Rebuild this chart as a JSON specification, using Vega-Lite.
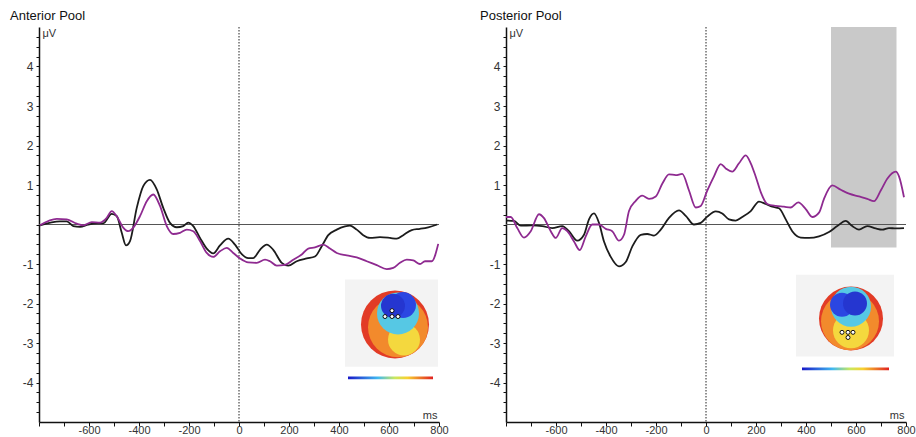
{
  "$schema": "https://vega.github.io/schema/vega-lite/v6.json",
  "background": "white",
  "padding": {"left": 10, "top": 9, "right": 0, "bottom": 0},
  "config": {
    "view": {"stroke": null},
    "font": "Liberation Sans",
    "axis": {"labelOverlap": false, "labelFlush": false, "grid": false, "tickCount": 100}
  },
  "datasets": {
    "erp": [
      {"pool":"Anterior","cond":"C1","t":-796,"v":-0.02},{"pool":"Anterior","cond":"C1","t":-716,"v":0.08},{"pool":"Anterior","cond":"C1","t":-689,"v":0.08},{"pool":"Anterior","cond":"C1","t":-663,"v":-0.04},{"pool":"Anterior","cond":"C1","t":-636,"v":-0.06},{"pool":"Anterior","cond":"C1","t":-603,"v":0},{"pool":"Anterior","cond":"C1","t":-569,"v":0.03},{"pool":"Anterior","cond":"C1","t":-543,"v":0.03},{"pool":"Anterior","cond":"C1","t":-509,"v":0.27},{"pool":"Anterior","cond":"C1","t":-489,"v":0.21},{"pool":"Anterior","cond":"C1","t":-469,"v":-0.21},{"pool":"Anterior","cond":"C1","t":-452,"v":-0.53},{"pool":"Anterior","cond":"C1","t":-436,"v":-0.42},{"pool":"Anterior","cond":"C1","t":-409,"v":0.42},{"pool":"Anterior","cond":"C1","t":-383,"v":0.97},{"pool":"Anterior","cond":"C1","t":-356,"v":1.13},{"pool":"Anterior","cond":"C1","t":-329,"v":0.89},{"pool":"Anterior","cond":"C1","t":-303,"v":0.42},{"pool":"Anterior","cond":"C1","t":-276,"v":0.04},{"pool":"Anterior","cond":"C1","t":-249,"v":-0.07},{"pool":"Anterior","cond":"C1","t":-223,"v":-0.04},{"pool":"Anterior","cond":"C1","t":-203,"v":0.05},{"pool":"Anterior","cond":"C1","t":-183,"v":-0.04},{"pool":"Anterior","cond":"C1","t":-156,"v":-0.34},{"pool":"Anterior","cond":"C1","t":-129,"v":-0.61},{"pool":"Anterior","cond":"C1","t":-103,"v":-0.73},{"pool":"Anterior","cond":"C1","t":-76,"v":-0.53},{"pool":"Anterior","cond":"C1","t":-43,"v":-0.36},{"pool":"Anterior","cond":"C1","t":-16,"v":-0.51},{"pool":"Anterior","cond":"C1","t":11,"v":-0.75},{"pool":"Anterior","cond":"C1","t":37,"v":-0.85},{"pool":"Anterior","cond":"C1","t":57,"v":-0.85},{"pool":"Anterior","cond":"C1","t":84,"v":-0.64},{"pool":"Anterior","cond":"C1","t":111,"v":-0.51},{"pool":"Anterior","cond":"C1","t":137,"v":-0.64},{"pool":"Anterior","cond":"C1","t":171,"v":-0.97},{"pool":"Anterior","cond":"C1","t":197,"v":-1.04},{"pool":"Anterior","cond":"C1","t":231,"v":-0.93},{"pool":"Anterior","cond":"C1","t":271,"v":-0.86},{"pool":"Anterior","cond":"C1","t":304,"v":-0.81},{"pool":"Anterior","cond":"C1","t":331,"v":-0.55},{"pool":"Anterior","cond":"C1","t":357,"v":-0.27},{"pool":"Anterior","cond":"C1","t":391,"v":-0.13},{"pool":"Anterior","cond":"C1","t":424,"v":-0.05},{"pool":"Anterior","cond":"C1","t":444,"v":-0.03},{"pool":"Anterior","cond":"C1","t":471,"v":-0.13},{"pool":"Anterior","cond":"C1","t":497,"v":-0.27},{"pool":"Anterior","cond":"C1","t":524,"v":-0.34},{"pool":"Anterior","cond":"C1","t":564,"v":-0.32},{"pool":"Anterior","cond":"C1","t":604,"v":-0.34},{"pool":"Anterior","cond":"C1","t":631,"v":-0.36},{"pool":"Anterior","cond":"C1","t":657,"v":-0.27},{"pool":"Anterior","cond":"C1","t":691,"v":-0.14},{"pool":"Anterior","cond":"C1","t":724,"v":-0.11},{"pool":"Anterior","cond":"C1","t":757,"v":-0.07},{"pool":"Anterior","cond":"C1","t":793,"v":0},
      {"pool":"Anterior","cond":"C2","t":-796,"v":-0.02},{"pool":"Anterior","cond":"C2","t":-729,"v":0.14},{"pool":"Anterior","cond":"C2","t":-689,"v":0.13},{"pool":"Anterior","cond":"C2","t":-649,"v":0.02},{"pool":"Anterior","cond":"C2","t":-623,"v":-0.02},{"pool":"Anterior","cond":"C2","t":-589,"v":0.06},{"pool":"Anterior","cond":"C2","t":-556,"v":0.05},{"pool":"Anterior","cond":"C2","t":-529,"v":0.17},{"pool":"Anterior","cond":"C2","t":-509,"v":0.34},{"pool":"Anterior","cond":"C2","t":-489,"v":0.21},{"pool":"Anterior","cond":"C2","t":-463,"v":-0.08},{"pool":"Anterior","cond":"C2","t":-443,"v":-0.17},{"pool":"Anterior","cond":"C2","t":-423,"v":-0.08},{"pool":"Anterior","cond":"C2","t":-396,"v":0.21},{"pool":"Anterior","cond":"C2","t":-369,"v":0.59},{"pool":"Anterior","cond":"C2","t":-343,"v":0.76},{"pool":"Anterior","cond":"C2","t":-316,"v":0.47},{"pool":"Anterior","cond":"C2","t":-289,"v":-0.04},{"pool":"Anterior","cond":"C2","t":-263,"v":-0.24},{"pool":"Anterior","cond":"C2","t":-236,"v":-0.21},{"pool":"Anterior","cond":"C2","t":-209,"v":-0.13},{"pool":"Anterior","cond":"C2","t":-183,"v":-0.17},{"pool":"Anterior","cond":"C2","t":-156,"v":-0.42},{"pool":"Anterior","cond":"C2","t":-129,"v":-0.72},{"pool":"Anterior","cond":"C2","t":-103,"v":-0.82},{"pool":"Anterior","cond":"C2","t":-76,"v":-0.68},{"pool":"Anterior","cond":"C2","t":-49,"v":-0.59},{"pool":"Anterior","cond":"C2","t":-23,"v":-0.72},{"pool":"Anterior","cond":"C2","t":4,"v":-0.86},{"pool":"Anterior","cond":"C2","t":37,"v":-0.96},{"pool":"Anterior","cond":"C2","t":71,"v":-0.97},{"pool":"Anterior","cond":"C2","t":104,"v":-0.89},{"pool":"Anterior","cond":"C2","t":124,"v":-0.93},{"pool":"Anterior","cond":"C2","t":151,"v":-1.04},{"pool":"Anterior","cond":"C2","t":184,"v":-1.02},{"pool":"Anterior","cond":"C2","t":217,"v":-0.89},{"pool":"Anterior","cond":"C2","t":251,"v":-0.76},{"pool":"Anterior","cond":"C2","t":277,"v":-0.61},{"pool":"Anterior","cond":"C2","t":304,"v":-0.58},{"pool":"Anterior","cond":"C2","t":337,"v":-0.51},{"pool":"Anterior","cond":"C2","t":364,"v":-0.61},{"pool":"Anterior","cond":"C2","t":391,"v":-0.72},{"pool":"Anterior","cond":"C2","t":431,"v":-0.78},{"pool":"Anterior","cond":"C2","t":471,"v":-0.83},{"pool":"Anterior","cond":"C2","t":511,"v":-0.93},{"pool":"Anterior","cond":"C2","t":551,"v":-1.03},{"pool":"Anterior","cond":"C2","t":591,"v":-1.13},{"pool":"Anterior","cond":"C2","t":617,"v":-1.10},{"pool":"Anterior","cond":"C2","t":644,"v":-0.97},{"pool":"Anterior","cond":"C2","t":671,"v":-0.89},{"pool":"Anterior","cond":"C2","t":697,"v":-0.91},{"pool":"Anterior","cond":"C2","t":724,"v":-1.0},{"pool":"Anterior","cond":"C2","t":744,"v":-0.93},{"pool":"Anterior","cond":"C2","t":771,"v":-0.93},{"pool":"Anterior","cond":"C2","t":797,"v":-0.49},
      {"pool":"Posterior","cond":"C1","t":-800,"v":0.10},{"pool":"Posterior","cond":"C1","t":-768,"v":0.09},{"pool":"Posterior","cond":"C1","t":-741,"v":-0.03},{"pool":"Posterior","cond":"C1","t":-695,"v":-0.02},{"pool":"Posterior","cond":"C1","t":-655,"v":-0.04},{"pool":"Posterior","cond":"C1","t":-615,"v":-0.09},{"pool":"Posterior","cond":"C1","t":-575,"v":-0.04},{"pool":"Posterior","cond":"C1","t":-548,"v":-0.17},{"pool":"Posterior","cond":"C1","t":-515,"v":-0.41},{"pool":"Posterior","cond":"C1","t":-488,"v":-0.26},{"pool":"Posterior","cond":"C1","t":-468,"v":0.13},{"pool":"Posterior","cond":"C1","t":-448,"v":0.28},{"pool":"Posterior","cond":"C1","t":-428,"v":0.04},{"pool":"Posterior","cond":"C1","t":-408,"v":-0.43},{"pool":"Posterior","cond":"C1","t":-381,"v":-0.82},{"pool":"Posterior","cond":"C1","t":-348,"v":-1.06},{"pool":"Posterior","cond":"C1","t":-321,"v":-0.95},{"pool":"Posterior","cond":"C1","t":-295,"v":-0.56},{"pool":"Posterior","cond":"C1","t":-261,"v":-0.26},{"pool":"Posterior","cond":"C1","t":-235,"v":-0.24},{"pool":"Posterior","cond":"C1","t":-208,"v":-0.28},{"pool":"Posterior","cond":"C1","t":-181,"v":-0.13},{"pool":"Posterior","cond":"C1","t":-148,"v":0.17},{"pool":"Posterior","cond":"C1","t":-108,"v":0.36},{"pool":"Posterior","cond":"C1","t":-81,"v":0.22},{"pool":"Posterior","cond":"C1","t":-48,"v":0},{"pool":"Posterior","cond":"C1","t":-21,"v":0.04},{"pool":"Posterior","cond":"C1","t":5,"v":0.20},{"pool":"Posterior","cond":"C1","t":39,"v":0.33},{"pool":"Posterior","cond":"C1","t":65,"v":0.28},{"pool":"Posterior","cond":"C1","t":92,"v":0.13},{"pool":"Posterior","cond":"C1","t":119,"v":0.10},{"pool":"Posterior","cond":"C1","t":145,"v":0.19},{"pool":"Posterior","cond":"C1","t":179,"v":0.34},{"pool":"Posterior","cond":"C1","t":212,"v":0.58},{"pool":"Posterior","cond":"C1","t":239,"v":0.52},{"pool":"Posterior","cond":"C1","t":265,"v":0.45},{"pool":"Posterior","cond":"C1","t":292,"v":0.41},{"pool":"Posterior","cond":"C1","t":319,"v":0.13},{"pool":"Posterior","cond":"C1","t":345,"v":-0.17},{"pool":"Posterior","cond":"C1","t":379,"v":-0.33},{"pool":"Posterior","cond":"C1","t":412,"v":-0.34},{"pool":"Posterior","cond":"C1","t":452,"v":-0.30},{"pool":"Posterior","cond":"C1","t":492,"v":-0.19},{"pool":"Posterior","cond":"C1","t":525,"v":-0.04},{"pool":"Posterior","cond":"C1","t":559,"v":0.09},{"pool":"Posterior","cond":"C1","t":585,"v":-0.04},{"pool":"Posterior","cond":"C1","t":612,"v":-0.13},{"pool":"Posterior","cond":"C1","t":645,"v":-0.04},{"pool":"Posterior","cond":"C1","t":679,"v":-0.10},{"pool":"Posterior","cond":"C1","t":705,"v":-0.13},{"pool":"Posterior","cond":"C1","t":732,"v":-0.09},{"pool":"Posterior","cond":"C1","t":759,"v":-0.10},{"pool":"Posterior","cond":"C1","t":792,"v":-0.09},
      {"pool":"Posterior","cond":"C2","t":-800,"v":0.19},{"pool":"Posterior","cond":"C2","t":-781,"v":0.19},{"pool":"Posterior","cond":"C2","t":-755,"v":-0.09},{"pool":"Posterior","cond":"C2","t":-728,"v":-0.33},{"pool":"Posterior","cond":"C2","t":-701,"v":-0.17},{"pool":"Posterior","cond":"C2","t":-668,"v":0.26},{"pool":"Posterior","cond":"C2","t":-648,"v":0.16},{"pool":"Posterior","cond":"C2","t":-621,"v":-0.17},{"pool":"Posterior","cond":"C2","t":-601,"v":-0.34},{"pool":"Posterior","cond":"C2","t":-575,"v":-0.09},{"pool":"Posterior","cond":"C2","t":-555,"v":-0.17},{"pool":"Posterior","cond":"C2","t":-528,"v":-0.43},{"pool":"Posterior","cond":"C2","t":-505,"v":-0.65},{"pool":"Posterior","cond":"C2","t":-481,"v":-0.30},{"pool":"Posterior","cond":"C2","t":-455,"v":0},{"pool":"Posterior","cond":"C2","t":-428,"v":0},{"pool":"Posterior","cond":"C2","t":-401,"v":-0.11},{"pool":"Posterior","cond":"C2","t":-375,"v":-0.17},{"pool":"Posterior","cond":"C2","t":-348,"v":-0.41},{"pool":"Posterior","cond":"C2","t":-328,"v":-0.26},{"pool":"Posterior","cond":"C2","t":-308,"v":0.34},{"pool":"Posterior","cond":"C2","t":-281,"v":0.60},{"pool":"Posterior","cond":"C2","t":-255,"v":0.73},{"pool":"Posterior","cond":"C2","t":-228,"v":0.65},{"pool":"Posterior","cond":"C2","t":-201,"v":0.71},{"pool":"Posterior","cond":"C2","t":-175,"v":1.03},{"pool":"Posterior","cond":"C2","t":-148,"v":1.27},{"pool":"Posterior","cond":"C2","t":-121,"v":1.25},{"pool":"Posterior","cond":"C2","t":-95,"v":1.28},{"pool":"Posterior","cond":"C2","t":-68,"v":0.86},{"pool":"Posterior","cond":"C2","t":-41,"v":0.43},{"pool":"Posterior","cond":"C2","t":-21,"v":0.47},{"pool":"Posterior","cond":"C2","t":5,"v":0.86},{"pool":"Posterior","cond":"C2","t":32,"v":1.22},{"pool":"Posterior","cond":"C2","t":59,"v":1.53},{"pool":"Posterior","cond":"C2","t":79,"v":1.42},{"pool":"Posterior","cond":"C2","t":105,"v":1.34},{"pool":"Posterior","cond":"C2","t":132,"v":1.55},{"pool":"Posterior","cond":"C2","t":159,"v":1.75},{"pool":"Posterior","cond":"C2","t":179,"v":1.55},{"pool":"Posterior","cond":"C2","t":199,"v":1.21},{"pool":"Posterior","cond":"C2","t":219,"v":0.82},{"pool":"Posterior","cond":"C2","t":245,"v":0.52},{"pool":"Posterior","cond":"C2","t":279,"v":0.47},{"pool":"Posterior","cond":"C2","t":312,"v":0.45},{"pool":"Posterior","cond":"C2","t":339,"v":0.43},{"pool":"Posterior","cond":"C2","t":369,"v":0.56},{"pool":"Posterior","cond":"C2","t":399,"v":0.39},{"pool":"Posterior","cond":"C2","t":425,"v":0.19},{"pool":"Posterior","cond":"C2","t":452,"v":0.30},{"pool":"Posterior","cond":"C2","t":472,"v":0.65},{"pool":"Posterior","cond":"C2","t":505,"v":0.99},{"pool":"Posterior","cond":"C2","t":539,"v":0.88},{"pool":"Posterior","cond":"C2","t":572,"v":0.78},{"pool":"Posterior","cond":"C2","t":612,"v":0.71},{"pool":"Posterior","cond":"C2","t":645,"v":0.65},{"pool":"Posterior","cond":"C2","t":672,"v":0.59},{"pool":"Posterior","cond":"C2","t":699,"v":0.86},{"pool":"Posterior","cond":"C2","t":725,"v":1.16},{"pool":"Posterior","cond":"C2","t":759,"v":1.34},{"pool":"Posterior","cond":"C2","t":772,"v":1.22},{"pool":"Posterior","cond":"C2","t":792,"v":0.69}
    ],
    "one": [{"z": 0}],
    "shade": [{"pool":"Posterior","t0":500,"t1":762,"v0":-0.58,"v1":5}],
    "boxes": [
      {"pool":"Anterior","kind":"bg","t0":424,"t1":796,"v0":-1.39,"v1":-3.6},
      {"pool":"Posterior","kind":"bg","t0":360,"t1":752,"v0":-1.27,"v1":-3.34},
      {"pool":"Anterior","kind":"bar","t0":436,"t1":776,"v0":-3.85,"v1":-3.92},
      {"pool":"Posterior","kind":"bar","t0":384,"t1":732,"v0":-3.62,"v1":-3.69}
    ],
    "topo": [
      {"pool":"Anterior","zone":"L1","t":624,"v":-2.53},
      {"pool":"Anterior","zone":"L2","t":636,"v":-2.6},
      {"pool":"Anterior","zone":"L3","t":660,"v":-2.91},
      {"pool":"Anterior","zone":"L4","t":636,"v":-2.25},
      {"pool":"Anterior","zone":"L5","t":656,"v":-2.04},
      {"pool":"Anterior","zone":"L6","t":616,"v":-2.06},
      {"pool":"Posterior","zone":"R1","t":580,"v":-2.38},
      {"pool":"Posterior","zone":"R2","t":576,"v":-2.45},
      {"pool":"Posterior","zone":"R3","t":580,"v":-2.68},
      {"pool":"Posterior","zone":"R4","t":580,"v":-2.08},
      {"pool":"Posterior","zone":"R5","t":544,"v":-2.03},
      {"pool":"Posterior","zone":"R6","t":596,"v":-2.0}
    ],
    "elec": [
      {"pool":"Anterior","t":612,"v":-2.18},{"pool":"Anterior","t":584,"v":-2.33},{"pool":"Anterior","t":612,"v":-2.33},{"pool":"Anterior","t":636,"v":-2.33},
      {"pool":"Posterior","t":544,"v":-2.73},{"pool":"Posterior","t":568,"v":-2.73},{"pool":"Posterior","t":588,"v":-2.73},{"pool":"Posterior","t":568,"v":-2.86}
    ]
  },
  "hconcat": [
    {
      "width": 400, "height": 395,
      "title": {"text": "Anterior Pool", "anchor": "start", "frame": "group", "dx": -29, "fontSize": 13, "fontWeight": "normal", "font": "Liberation Sans", "color": "#111", "offset": 4},
      "layer": [
        {
          "data": {"name": "erp"},
          "transform": [{"filter": "datum.pool == 'Anterior'"}],
          "mark": {"type": "line", "interpolate": "monotone", "strokeWidth": 1.8, "opacity": 0},
          "encoding": {
            "x": {"field": "t", "type": "quantitative", "scale": {"domain": [-800, 800], "nice": false},
              "axis": {"values": [-800,-700,-600,-500,-400,-300,-200,-100,0,100,200,300,400,500,600,700,800], "tickCount": 100, "labelExpr": "(datum.value % 200 == 0 && datum.value > -800) ? '' + datum.value : ''", "title": "ms", "titleX": 398, "titleY": -2, "titleAlign": "right", "titleBaseline": "bottom", "titleFontWeight": "normal", "titleFontSize": 11, "titleColor": "#333", "titleFont": "Liberation Sans", "tickSize": 4, "tickColor": "#111", "domainColor": "#111", "domainWidth": 1.5, "labelFontSize": 11, "labelColor": "#333", "labelFont": "Liberation Sans", "labelPadding": -2, "labelOverlap": false}},
            "y": {"field": "v", "type": "quantitative", "scale": {"domain": [-5, 5], "nice": false},
              "axis": {"values": [-4.75,-4.5,-4.25,-4,-3.75,-3.5,-3.25,-3,-2.75,-2.5,-2.25,-2,-1.75,-1.5,-1.25,-1,-0.75,-0.5,-0.25,0,0.25,0.5,0.75,1,1.25,1.5,1.75,2,2.25,2.5,2.75,3,3.25,3.5,3.75,4,4.25,4.5,4.75], "tickCount": 100, "labelExpr": "(datum.value % 1 == 0 && datum.value != 0) ? '' + datum.value : ''", "title": "μV", "titleAngle": 0, "titleX": 3, "titleY": 0, "titleAlign": "left", "titleBaseline": "top", "titleFontWeight": "normal", "titleFontSize": 11, "titleColor": "#333", "titleFont": "Liberation Sans", "tickSize": 3, "tickColor": "#111", "domainColor": "#111", "domainWidth": 1.5, "labelFontSize": 12, "labelColor": "#333", "labelFont": "Liberation Sans", "labelPadding": 3, "labelOverlap": false}},
            "color": {"field": "cond", "type": "nominal", "scale": {"domain": ["C1", "C2"], "range": ["#1c1c1c", "#8e2a90"]}, "legend": null}
          }
        },
        {
          "data": {"name": "boxes"},
          "transform": [{"filter": "datum.pool == 'Anterior' && datum.kind == 'bg'"}],
          "mark": {"type": "rect", "color": "#f3f3f3"},
          "encoding": {
            "x": {"field": "t0", "type": "quantitative"},
            "x2": {"field": "t1"},
            "y": {"field": "v0", "type": "quantitative"},
            "y2": {"field": "v1"}
          }
        },
        {
          "data": {"name": "boxes"},
          "transform": [{"filter": "datum.pool == 'Anterior' && datum.kind == 'bar'"}],
          "mark": {"type": "rect", "color": {"gradient": "linear", "x1": 0, "y1": 0, "x2": 1, "y2": 0, "stops": [{"offset": 0, "color": "#1818c8"}, {"offset": 0.35, "color": "#40b8f0"}, {"offset": 0.55, "color": "#c8e860"}, {"offset": 0.7, "color": "#f8d030"}, {"offset": 1, "color": "#e02020"}]}},
          "encoding": {
            "x": {"field": "t0", "type": "quantitative"},
            "x2": {"field": "t1"},
            "y": {"field": "v0", "type": "quantitative"},
            "y2": {"field": "v1"}
          }
        },
        {
          "data": {"name": "topo"},
          "transform": [{"filter": "datum.pool == 'Anterior'"}],
          "mark": {"type": "point", "shape": "circle", "filled": true, "opacity": 1},
          "encoding": {
            "x": {"field": "t", "type": "quantitative"},
            "y": {"field": "v", "type": "quantitative"},
            "fill": {"field": "zone", "type": "nominal", "scale": {"domain": ["L1","L2","L3","L4","L5","L6"], "range": ["#e23b26","#f28a2c","#f4d83e","#56c8e4","#2b46e2","#2536d0"]}, "legend": null},
            "size": {"field": "zone", "type": "nominal", "scale": {"type": "ordinal", "domain": ["L1","L2","L3","L4","L5","L6"], "range": [4624, 3600, 1024, 1764, 676, 576]}, "legend": null}
          }
        },
        {
          "data": {"name": "elec"},
          "transform": [{"filter": "datum.pool == 'Anterior'"}],
          "mark": {"type": "point", "shape": "circle", "filled": true, "fill": "white", "stroke": "#111", "strokeWidth": 1, "size": 16, "opacity": 1},
          "encoding": {
            "x": {"field": "t", "type": "quantitative"},
            "y": {"field": "v", "type": "quantitative"}
          }
        },
        {
          "data": {"name": "one"},
          "mark": {"type": "rule", "color": "#555", "strokeWidth": 1},
          "encoding": {"y": {"datum": 0, "type": "quantitative"}}
        },
        {
          "data": {"name": "one"},
          "mark": {"type": "rule", "color": "#222", "strokeWidth": 1, "strokeDash": [1.5, 1.5]},
          "encoding": {"x": {"datum": 0, "type": "quantitative"}}
        },
        {
          "data": {"name": "erp"},
          "transform": [{"filter": "datum.pool == 'Anterior'"}],
          "mark": {"type": "line", "interpolate": "monotone", "strokeWidth": 1.8},
          "encoding": {
            "x": {"field": "t", "type": "quantitative"},
            "y": {"field": "v", "type": "quantitative"},
            "color": {"field": "cond", "type": "nominal", "legend": null}
          }
        }
      ]
    },
    {
      "width": 400, "height": 395,
      "title": {"text": "Posterior Pool", "anchor": "start", "frame": "group", "dx": -26, "fontSize": 13, "fontWeight": "normal", "font": "Liberation Sans", "color": "#111", "offset": 4},
      "layer": [
        {
          "data": {"name": "erp"},
          "transform": [{"filter": "datum.pool == 'Posterior'"}],
          "mark": {"type": "line", "interpolate": "monotone", "strokeWidth": 1.8, "opacity": 0},
          "encoding": {
            "x": {"field": "t", "type": "quantitative", "scale": {"domain": [-800, 800], "nice": false},
              "axis": {"values": [-800,-700,-600,-500,-400,-300,-200,-100,0,100,200,300,400,500,600,700,800], "tickCount": 100, "labelExpr": "(datum.value % 200 == 0 && datum.value > -800) ? '' + datum.value : ''", "title": "ms", "titleX": 398, "titleY": -2, "titleAlign": "right", "titleBaseline": "bottom", "titleFontWeight": "normal", "titleFontSize": 11, "titleColor": "#333", "titleFont": "Liberation Sans", "tickSize": 4, "tickColor": "#111", "domainColor": "#111", "domainWidth": 1.5, "labelFontSize": 11, "labelColor": "#333", "labelFont": "Liberation Sans", "labelPadding": -2, "labelOverlap": false}},
            "y": {"field": "v", "type": "quantitative", "scale": {"domain": [-5, 5], "nice": false},
              "axis": {"values": [-4.75,-4.5,-4.25,-4,-3.75,-3.5,-3.25,-3,-2.75,-2.5,-2.25,-2,-1.75,-1.5,-1.25,-1,-0.75,-0.5,-0.25,0,0.25,0.5,0.75,1,1.25,1.5,1.75,2,2.25,2.5,2.75,3,3.25,3.5,3.75,4,4.25,4.5,4.75], "tickCount": 100, "labelExpr": "(datum.value % 1 == 0 && datum.value != 0) ? '' + datum.value : ''", "title": "μV", "titleAngle": 0, "titleX": 3, "titleY": 0, "titleAlign": "left", "titleBaseline": "top", "titleFontWeight": "normal", "titleFontSize": 11, "titleColor": "#333", "titleFont": "Liberation Sans", "tickSize": 3, "tickColor": "#111", "domainColor": "#111", "domainWidth": 1.5, "labelFontSize": 12, "labelColor": "#333", "labelFont": "Liberation Sans", "labelPadding": 3, "labelOverlap": false}},
            "color": {"field": "cond", "type": "nominal", "scale": {"domain": ["C1", "C2"], "range": ["#1c1c1c", "#8e2a90"]}, "legend": null}
          }
        },
        {
          "data": {"name": "shade"},
          "mark": {"type": "rect", "color": "#c9c9c9"},
          "encoding": {
            "x": {"field": "t0", "type": "quantitative"},
            "x2": {"field": "t1"},
            "y": {"field": "v0", "type": "quantitative"},
            "y2": {"field": "v1"}
          }
        },
        {
          "data": {"name": "boxes"},
          "transform": [{"filter": "datum.pool == 'Posterior' && datum.kind == 'bg'"}],
          "mark": {"type": "rect", "color": "#f3f3f3"},
          "encoding": {
            "x": {"field": "t0", "type": "quantitative"},
            "x2": {"field": "t1"},
            "y": {"field": "v0", "type": "quantitative"},
            "y2": {"field": "v1"}
          }
        },
        {
          "data": {"name": "boxes"},
          "transform": [{"filter": "datum.pool == 'Posterior' && datum.kind == 'bar'"}],
          "mark": {"type": "rect", "color": {"gradient": "linear", "x1": 0, "y1": 0, "x2": 1, "y2": 0, "stops": [{"offset": 0, "color": "#1818c8"}, {"offset": 0.35, "color": "#40b8f0"}, {"offset": 0.55, "color": "#c8e860"}, {"offset": 0.7, "color": "#f8d030"}, {"offset": 1, "color": "#e02020"}]}},
          "encoding": {
            "x": {"field": "t0", "type": "quantitative"},
            "x2": {"field": "t1"},
            "y": {"field": "v0", "type": "quantitative"},
            "y2": {"field": "v1"}
          }
        },
        {
          "data": {"name": "topo"},
          "transform": [{"filter": "datum.pool == 'Posterior'"}],
          "mark": {"type": "point", "shape": "circle", "filled": true, "opacity": 1},
          "encoding": {
            "x": {"field": "t", "type": "quantitative"},
            "y": {"field": "v", "type": "quantitative"},
            "fill": {"field": "zone", "type": "nominal", "scale": {"domain": ["R1","R2","R3","R4","R5","R6"], "range": ["#e23b26","#f28a2c","#f4d83e","#56c8e4","#2b46e2","#2536d0"]}, "legend": null},
            "size": {"field": "zone", "type": "nominal", "scale": {"type": "ordinal", "domain": ["R1","R2","R3","R4","R5","R6"], "range": [4096, 3364, 1296, 1600, 576, 576]}, "legend": null}
          }
        },
        {
          "data": {"name": "elec"},
          "transform": [{"filter": "datum.pool == 'Posterior'"}],
          "mark": {"type": "point", "shape": "circle", "filled": true, "fill": "white", "stroke": "#111", "strokeWidth": 1, "size": 16, "opacity": 1},
          "encoding": {
            "x": {"field": "t", "type": "quantitative"},
            "y": {"field": "v", "type": "quantitative"}
          }
        },
        {
          "data": {"name": "one"},
          "mark": {"type": "rule", "color": "#555", "strokeWidth": 1},
          "encoding": {"y": {"datum": 0, "type": "quantitative"}}
        },
        {
          "data": {"name": "one"},
          "mark": {"type": "rule", "color": "#222", "strokeWidth": 1, "strokeDash": [1.5, 1.5]},
          "encoding": {"x": {"datum": 0, "type": "quantitative"}}
        },
        {
          "data": {"name": "erp"},
          "transform": [{"filter": "datum.pool == 'Posterior'"}],
          "mark": {"type": "line", "interpolate": "monotone", "strokeWidth": 1.8},
          "encoding": {
            "x": {"field": "t", "type": "quantitative"},
            "y": {"field": "v", "type": "quantitative"},
            "color": {"field": "cond", "type": "nominal", "legend": null}
          }
        }
      ]
    }
  ],
  "spacing": 67,
  "bounds": "flush",
  "resolve": {"scale": {"x": "independent", "y": "independent", "color": "independent", "fill": "independent", "size": "independent"}}
}
